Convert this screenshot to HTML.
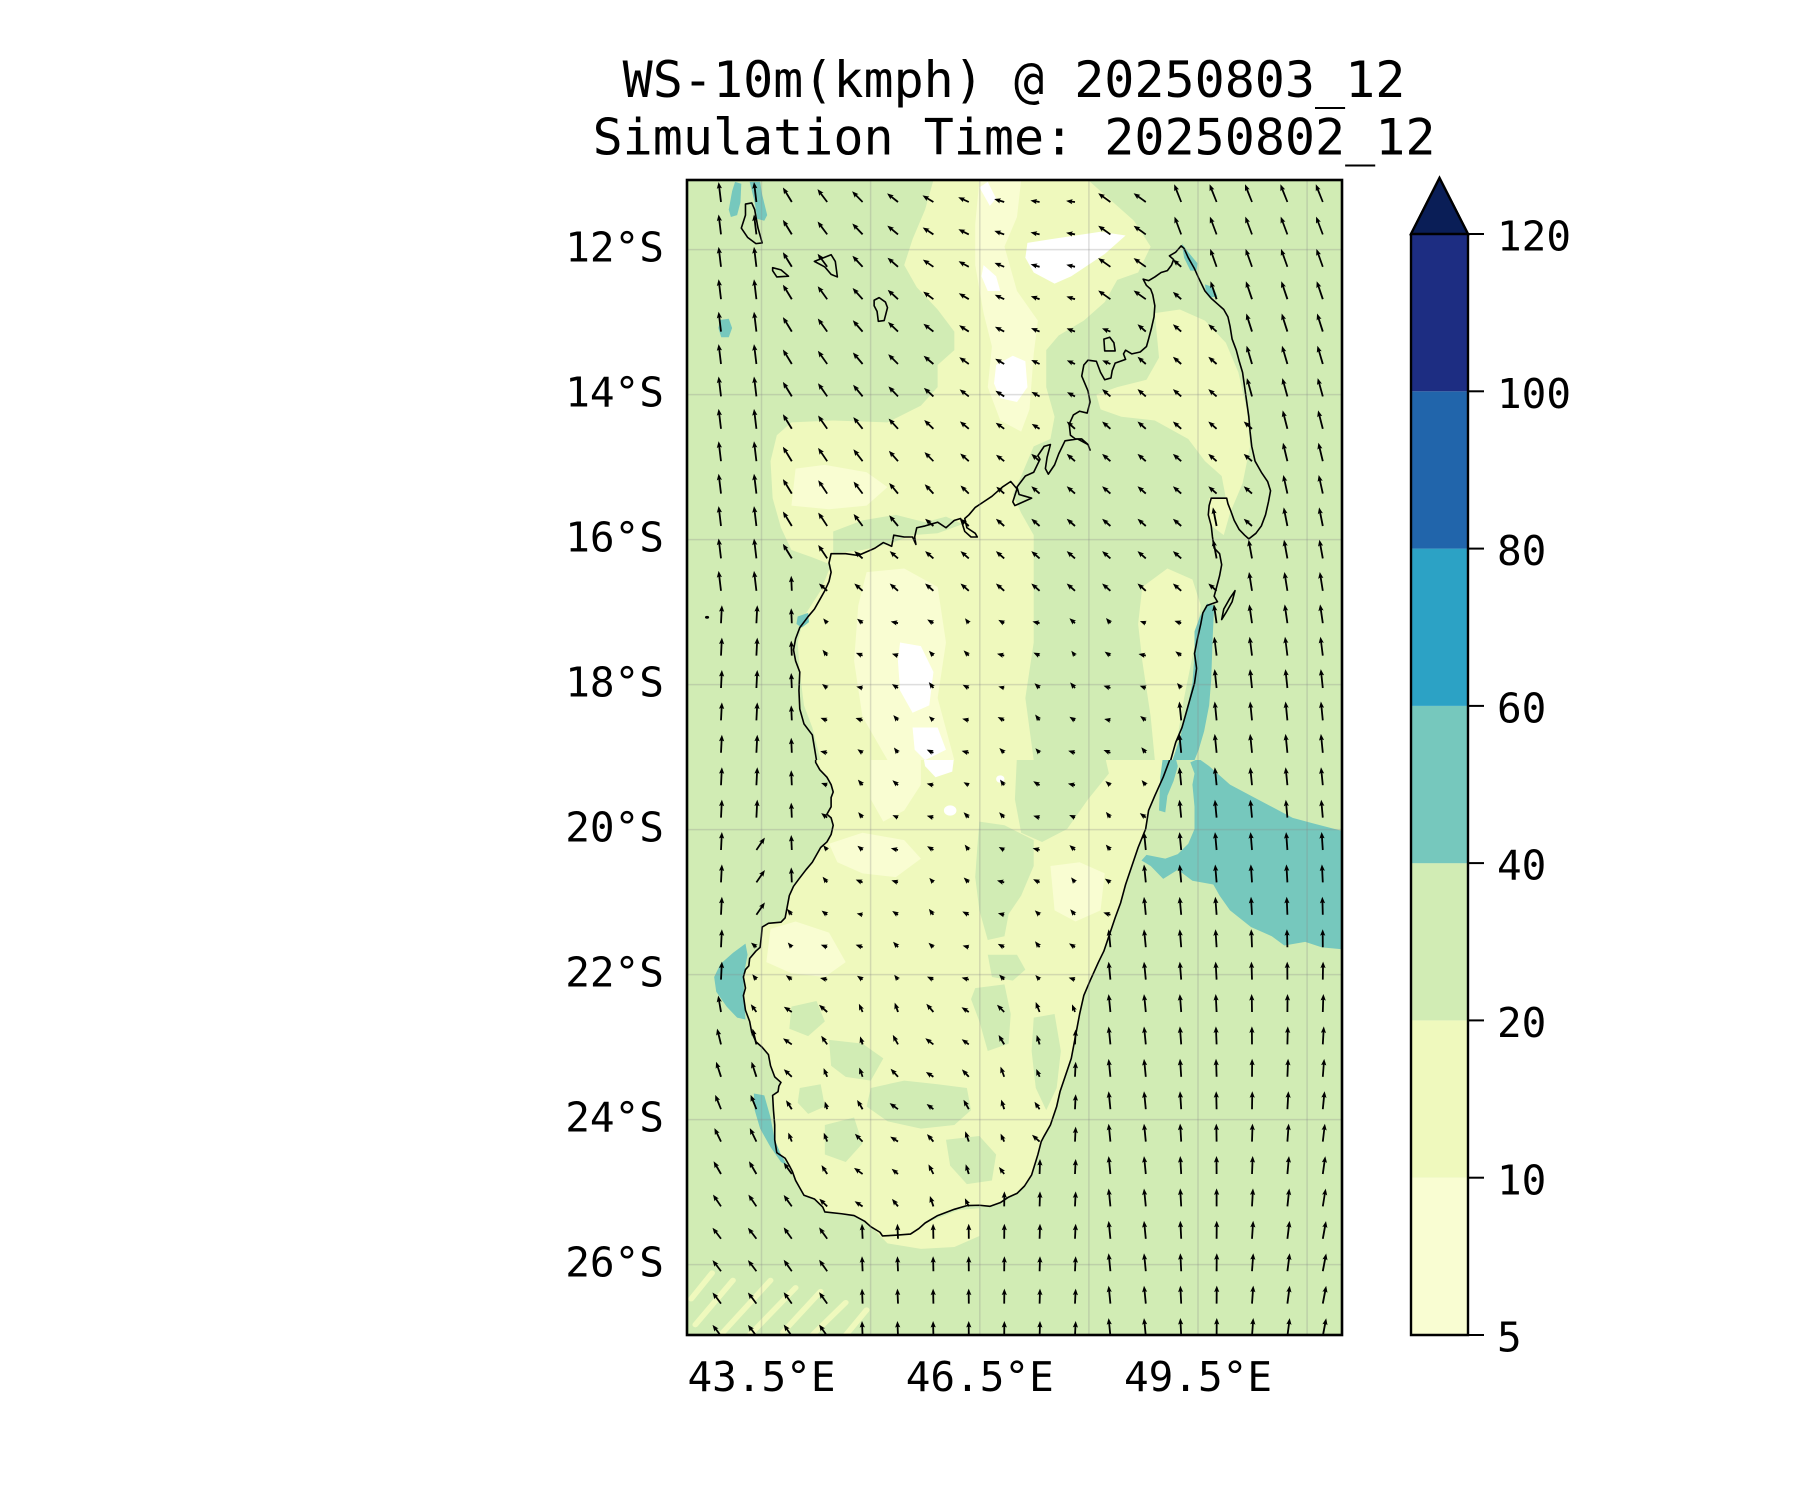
<!DOCTYPE html>
<html><head><meta charset="utf-8"><style>
html,body{margin:0;padding:0;background:#fff;}
svg{display:block;}
text{font-family:"DejaVu Sans Mono","Liberation Mono",monospace;fill:#000;}
</style></head><body>
<svg xmlns="http://www.w3.org/2000/svg" width="1800" height="1500" viewBox="0 0 1800 1500">
<defs>
<clipPath id="ax"><rect x="687" y="180" width="655" height="1155"/></clipPath>
<clipPath id="ctop"><rect x="687" y="180" width="655" height="580"/></clipPath>
<clipPath id="cbot"><rect x="687" y="760" width="655" height="575"/></clipPath>
</defs>
<rect width="1800" height="1500" fill="#fff"/>
<text x="1014" y="97" font-size="50" text-anchor="middle">WS-10m(kmph) @ 20250803_12</text>
<text x="1014" y="154.5" font-size="50" text-anchor="middle">Simulation Time: 20250802_12</text>

<g clip-path="url(#ax)">
<rect x="687" y="180" width="655" height="1155" fill="#d1ecb4"/>
<!-- top frame -->
<g clip-path="url(#ctop)">
<g transform="matrix(0.41771 0 0 0.36996 687 180)">
<path fill="#eff9bd" d="M590,0 L960,0 L1010,50 L1070,110 L1110,180 L1080,250 L1030,270 L1000,330 L950,380 L890,420 L860,460 L860,560 L880,640 L870,700 L830,720 L800,800 L780,850 L800,900 L830,960 L830,1050 L830,1250 L810,1400 L830,1568 L320,1568 L300,1480 L280,1420 L270,1330 L265,1250 L280,1180 L320,1110 L345,1040 L300,1020 L250,1000 L225,940 L205,860 L200,760 L215,690 L250,655 L350,650 L480,655 L560,610 L600,560 L600,500 L640,460 L640,410 L600,350 L550,290 L520,230 L540,160 L570,80 Z"/>
<path fill="#eff9bd" d="M1120,360 L1180,350 L1240,380 L1290,440 L1320,520 L1340,620 L1348,720 L1330,820 L1300,900 L1285,960 L1250,930 L1250,860 L1290,860 L1280,800 L1240,760 L1200,700 L1120,650 L1040,640 L990,620 L980,580 L1030,560 L1100,540 L1130,480 Z"/>
<path fill="#eff9bd" d="M1090,1100 L1150,1050 L1210,1080 L1230,1150 L1215,1260 L1190,1400 L1165,1568 L1120,1568 L1110,1450 L1090,1300 L1080,1200 Z"/>
<path fill="#d1ecb4" d="M350,950 L420,920 L500,905 L570,925 L620,910 L660,930 L600,955 L540,960 L480,985 L420,1000 L350,1010 Z"/>
<path fill="#f9fdd2" d="M700,0 L800,0 L790,100 L760,180 L790,300 L840,380 L830,470 L820,620 L800,680 L750,650 L720,560 L730,450 L710,360 L690,230 L690,120 Z"/>
<path fill="#f9fdd2" d="M260,780 L330,770 L430,790 L480,830 L430,880 L340,890 L250,880 Z"/>
<path fill="#f9fdd2" d="M430,1060 L520,1050 L600,1100 L620,1250 L600,1400 L640,1568 L480,1568 L420,1450 L400,1300 L410,1150 Z"/>
<g fill="#ffffff">
<path d="M815,170 L870,160 L930,150 L990,140 L1050,150 L1000,200 L960,230 L920,260 L880,280 L830,250 L810,210 Z"/>
<path d="M740,500 L780,475 L810,490 L815,560 L790,600 L750,590 L735,550 Z"/>
<path d="M710,230 L740,260 L750,300 L720,300 L705,260 Z"/>
<path d="M700,20 L720,5 L740,50 L725,70 Z"/>
<path d="M510,1250 L560,1260 L590,1330 L580,1420 L540,1440 L510,1380 L505,1300 Z"/>
<path d="M540,1480 L600,1480 L620,1540 L570,1568 L545,1540 Z"/>
</g>
<g fill="#76c8bd">
<path d="M115,5 L130,10 L128,60 L120,95 L105,100 L100,80 L108,30 Z"/>
<path d="M150,5 L175,5 L180,40 L192,95 L185,110 L168,105 L162,60 Z"/>
<path d="M80,378 L100,375 L108,400 L100,425 L82,425 L75,400 Z"/>
<path d="M1185,172 L1200,195 L1222,225 L1220,245 L1205,245 L1190,210 Z"/>
<path d="M1240,282 L1260,290 L1270,315 L1250,318 L1242,300 Z"/>
<path d="M265,1180 L290,1170 L292,1195 L275,1210 L262,1200 Z"/>
<path d="M1245,1145 L1262,1150 L1258,1250 L1255,1350 L1250,1420 L1238,1490 L1225,1540 L1215,1568 L1162,1568 L1180,1510 L1195,1440 L1210,1360 L1215,1280 L1215,1220 L1228,1180 Z"/>
</g>
<g fill="none" stroke="#000" stroke-width="1.6" stroke-linejoin="round">
<path vector-effect="non-scaling-stroke" d="M310,1568 L300,1500 L280,1470 L270,1430 L268,1380 L270,1330 L260,1300 L255,1270 L260,1240 L270,1210 L290,1180 L305,1160 L320,1130 L330,1110 L340,1085 L345,1060 L340,1035 L345,1010 L380,1010 L410,1015 L420,1010 L440,1000 L450,995 L470,980 L490,990 L495,960 L520,965 L540,965 L548,985 L545,965 L550,940 L570,935 L585,930 L600,925 L620,940 L630,930 L640,920 L655,915 L665,950 L680,965 L695,965 L690,955 L670,940 L665,915 L675,905 L690,885 L710,870 L730,855 L755,830 L775,815 L790,835 L780,870 L785,880 L805,870 L825,860 L810,855 L795,850 L790,830 L800,815 L810,800 L830,790 L845,755 L840,745 L855,720 L870,715 L862,750 L858,780 L865,795 L880,770 L890,740 L905,705 L935,700 L960,715 L965,730 L960,715 L945,700 L930,700 L918,690 L915,660 L925,635 L940,625 L958,630 L965,600 L960,570 L945,530 L950,500 L960,487 L980,490 L990,520 L1000,540 L1015,535 L1018,515 L1025,495 L1050,485 L1045,470 L1050,460 L1065,470 L1085,465 L1100,450 L1105,430 L1112,400 L1118,370 L1120,340 L1115,310 L1110,295 L1100,285 L1092,268 L1105,272 L1120,262 L1135,250 L1150,245 L1160,230 L1165,215 L1155,205 L1170,195 L1183,178 L1190,185 L1200,210 L1215,240 L1225,265 L1240,300 L1255,320 L1270,335 L1285,350 L1295,370 L1300,395 L1305,430 L1315,460 L1322,490 L1330,520 L1335,560 L1340,600 L1345,640 L1348,680 L1352,720 L1360,760 L1375,790 L1390,815 L1397,840 L1392,870 L1385,905 L1375,935 L1362,955 L1345,970 L1335,960 L1322,945 L1310,920 L1302,895 L1295,875 L1292,860 L1255,860 L1250,880 L1248,905 L1255,935 L1258,965 L1262,995 L1275,1010 L1280,1040 L1275,1070 L1268,1100 L1262,1125 L1270,1140 L1245,1150 L1235,1170 L1230,1200 L1222,1240 L1215,1280 L1220,1320 L1215,1360 L1205,1400 L1195,1440 L1185,1480 L1170,1520 L1158,1568"/>
<path vector-effect="non-scaling-stroke" d="M140,65 L155,62 L162,80 L170,130 L180,170 L165,172 L145,155 L130,130 L140,95 Z"/>
<path vector-effect="non-scaling-stroke" d="M205,237 L225,243 L243,260 L215,262 L205,245 Z"/>
<path vector-effect="non-scaling-stroke" d="M305,220 L345,202 L355,220 L360,262 L345,255 L330,235 Z"/>
<path vector-effect="non-scaling-stroke" d="M448,325 L460,318 L475,330 L480,345 L472,380 L458,382 L455,355 L448,340 Z"/>
<path vector-effect="non-scaling-stroke" d="M998,430 L1012,425 L1022,440 L1025,462 L1000,462 Z"/>
<path vector-effect="non-scaling-stroke" d="M1312,1110 L1305,1140 L1290,1170 L1280,1188 L1285,1160 L1300,1130 Z"/>
</g>
<ellipse cx="48" cy="1182" rx="5" ry="4" fill="#000"/>
</g>
</g>
<!-- bottom frame -->
<g clip-path="url(#cbot)">
<g transform="matrix(0.41771 0 0 0.36996 687 755)">
<path fill="#eff9bd" d="M1160,0 L1140,60 L1120,110 L1105,150 L1098,200 L1080,250 L1065,300 L1050,350 L1038,400 L1025,440 L1010,490 L998,530 L985,560 L965,610 L950,650 L940,700 L930,760 L920,820 L905,870 L893,910 L885,950 L870,1000 L855,1030 L848,1045 L840,1080 L825,1135 L808,1165 L790,1185 L770,1195 L750,1210 L725,1220 L700,1217 L670,1218 L640,1228 L600,1245 L570,1265 L555,1280 L535,1295 L500,1298 L468,1300 L462,1290 L440,1275 L425,1260 L400,1245 L370,1240 L330,1235 L325,1222 L305,1200 L280,1190 L270,1170 L260,1150 L252,1125 L245,1110 L235,1090 L215,1075 L210,1040 L210,1000 L207,960 L205,920 L218,910 L220,895 L225,885 L210,870 L200,840 L195,810 L180,790 L165,775 L155,750 L150,720 L140,690 L135,650 L140,630 L135,600 L140,580 L148,570 L150,550 L165,530 L175,520 L178,490 L180,465 L195,455 L225,452 L235,440 L240,410 L245,380 L255,355 L268,335 L285,310 L300,290 L310,270 L320,250 L335,235 L345,215 L350,190 L345,170 L335,160 L345,140 L345,115 L350,100 L345,80 L335,60 L318,40 L308,20 L308,0 Z"/>
<path fill="#eff9bd" d="M420,1250 L560,1270 L650,1230 L700,1225 L700,1300 L640,1330 L560,1335 L480,1320 Z"/>
<g stroke="#eff9bd" stroke-width="14" stroke-linecap="round" fill="none">
<path d="M20,1540 L110,1420 M80,1568 L200,1420 M150,1568 L260,1440 M230,1560 L320,1450 M300,1568 L380,1480 M10,1470 L60,1400 M380,1568 L430,1500"/>
</g>
<g fill="#d1ecb4">
<path d="M790,0 L1000,0 L1010,50 L960,120 L910,200 L850,235 L800,210 L785,120 Z"/>
<path d="M700,180 L760,190 L830,230 L830,300 L800,380 L770,430 L760,490 L720,500 L700,420 L690,330 L695,250 Z"/>
<path d="M720,540 L790,540 L810,580 L780,610 L730,600 Z"/>
<path d="M690,630 L760,620 L775,700 L770,780 L720,800 L700,720 L680,660 Z"/>
<path d="M340,770 L420,780 L470,820 L440,880 L380,870 L345,840 Z"/>
<path d="M250,680 L310,665 L330,720 L290,760 L245,740 Z"/>
<path d="M440,900 L520,880 L600,890 L670,900 L680,960 L640,1000 L560,1010 L480,990 L430,950 Z"/>
<path d="M620,1040 L700,1030 L740,1080 L730,1150 L670,1160 L630,1110 Z"/>
<path d="M830,710 L880,700 L895,800 L885,900 L860,960 L835,900 L825,800 Z"/>
<path d="M330,1000 L400,980 L420,1050 L380,1100 L330,1080 Z"/>
<path d="M270,900 L320,890 L330,950 L290,970 L265,940 Z"/>
</g>
<g fill="#f9fdd2">
<path d="M340,240 L420,210 L520,230 L560,280 L500,330 L420,320 L360,290 Z"/>
<path d="M200,470 L260,450 L340,480 L380,560 L330,600 L250,590 L190,560 Z"/>
<path d="M870,300 L940,290 L1000,320 L990,420 L930,450 L880,420 Z"/>
<path d="M440,0 L560,0 L560,80 L520,150 L470,180 L440,120 Z"/>
</g>
<g fill="#ffffff">
<path d="M565,0 L640,0 L635,45 L595,60 L570,30 Z"/>
<ellipse cx="630" cy="150" rx="15" ry="14"/>
<ellipse cx="750" cy="65" rx="10" ry="10"/>
</g>
<g fill="#76c8bd">
<path d="M1140,0 L1168,0 L1175,30 L1165,70 L1150,110 L1145,155 L1130,150 L1133,60 Z"/>
<path d="M1205,20 L1225,10 L1250,30 L1275,55 L1300,80 L1350,110 L1400,140 L1450,170 L1500,185 L1568,205 L1568,525 L1520,520 L1480,505 L1430,515 L1400,490 L1350,465 L1300,420 L1275,380 L1260,350 L1210,340 L1175,310 L1140,335 L1110,300 L1088,285 L1100,270 L1145,280 L1175,268 L1200,240 L1215,200 L1215,140 L1210,80 L1215,50 Z"/>
<path d="M140,510 L145,540 L135,600 L138,680 L140,715 L120,710 L95,680 L70,640 L65,600 L80,565 L110,535 Z"/>
<path d="M160,915 L185,920 L200,980 L210,1040 L225,1080 L240,1110 L225,1100 L200,1060 L175,1010 L162,960 Z"/>
</g>
<path fill="none" stroke="#000" stroke-width="1.6" vector-effect="non-scaling-stroke" stroke-linejoin="round" d="M1160,0 L1140,60 L1120,110 L1105,150 L1098,200 L1080,250 L1065,300 L1050,350 L1038,400 L1025,440 L1010,490 L998,530 L985,560 L965,610 L950,650 L940,700 L930,760 L920,820 L905,870 L893,910 L885,950 L870,1000 L855,1030 L848,1045 L840,1080 L825,1135 L808,1165 L790,1185 L770,1195 L750,1210 L725,1220 L700,1217 L670,1218 L640,1228 L600,1245 L570,1265 L555,1280 L535,1295 L500,1298 L468,1300 L462,1290 L440,1275 L425,1260 L400,1245 L370,1240 L330,1235 L325,1222 L305,1200 L280,1190 L270,1170 L260,1150 L252,1125 L245,1110 L235,1090 L215,1075 L210,1040 L210,1000 L207,960 L205,920 L218,910 L220,895 L225,885 L210,870 L200,840 L195,810 L180,790 L165,775 L155,750 L150,720 L140,690 L135,650 L140,630 L135,600 L140,580 L148,570 L150,550 L165,530 L175,520 L178,490 L180,465 L195,455 L225,452 L235,440 L240,410 L245,380 L255,355 L268,335 L285,310 L300,290 L310,270 L320,250 L335,235 L345,215 L350,190 L345,170 L335,160 L345,140 L345,115 L350,100 L345,80 L335,60 L318,40 L308,20 L308,0"/>
</g>
</g>
<!-- gridlines -->
<g stroke="#8a8a8a" stroke-opacity="0.28" stroke-width="1.5">
<line x1="761.5" y1="180" x2="761.5" y2="1335"/>
<line x1="870.6" y1="180" x2="870.6" y2="1335"/>
<line x1="979.8" y1="180" x2="979.8" y2="1335"/>
<line x1="1088.9" y1="180" x2="1088.9" y2="1335"/>
<line x1="1198" y1="180" x2="1198" y2="1335"/>
<line x1="1307.1" y1="180" x2="1307.1" y2="1335"/>
<line x1="687" y1="249.6" x2="1342" y2="249.6"/>
<line x1="687" y1="394.6" x2="1342" y2="394.6"/>
<line x1="687" y1="539.6" x2="1342" y2="539.6"/>
<line x1="687" y1="684.6" x2="1342" y2="684.6"/>
<line x1="687" y1="829.6" x2="1342" y2="829.6"/>
<line x1="687" y1="974.6" x2="1342" y2="974.6"/>
<line x1="687" y1="1119.6" x2="1342" y2="1119.6"/>
<line x1="687" y1="1264.6" x2="1342" y2="1264.6"/>
</g>
<path id="arrows" fill="#000" d=""/>
</g>
<rect x="687" y="180" width="655" height="1155" fill="none" stroke="#000" stroke-width="2.6"/>

<!-- lat labels -->
<g font-size="41" text-anchor="end">
<text x="664" y="261.6">12°S</text>
<text x="664" y="406.6">14°S</text>
<text x="664" y="551.6">16°S</text>
<text x="664" y="696.6">18°S</text>
<text x="664" y="841.6">20°S</text>
<text x="664" y="986.6">22°S</text>
<text x="664" y="1131.6">24°S</text>
<text x="664" y="1276.6">26°S</text>
</g>
<g font-size="41" text-anchor="middle">
<text x="761.5" y="1391">43.5°E</text>
<text x="979.8" y="1391">46.5°E</text>
<text x="1198" y="1391">49.5°E</text>
</g>

<!-- colorbar -->
<rect x="1411" y="1177.7" width="57" height="157.3" fill="#f9fdd2"/>
<rect x="1411" y="1020.4" width="57" height="157.3" fill="#eff9bd"/>
<rect x="1411" y="863.1" width="57" height="157.3" fill="#d1ecb4"/>
<rect x="1411" y="705.9" width="57" height="157.3" fill="#76c8bd"/>
<rect x="1411" y="548.6" width="57" height="157.3" fill="#2ca2c5"/>
<rect x="1411" y="391.3" width="57" height="157.3" fill="#2165ab"/>
<rect x="1411" y="234" width="57" height="157.3" fill="#1d2d82"/>
<path d="M1411,1335 L1411,234 L1439.5,178 L1468,234 L1468,1335 Z" fill="none" stroke="#000" stroke-width="2.4" stroke-linejoin="miter"/>
<path d="M1411,234 L1439.5,178 L1468,234 Z" fill="#0a1e57" stroke="#000" stroke-width="2.4"/>
<g stroke="#000" stroke-width="2">
<line x1="1468" y1="1335" x2="1484" y2="1335"/>
<line x1="1468" y1="1177.7" x2="1484" y2="1177.7"/>
<line x1="1468" y1="1020.4" x2="1484" y2="1020.4"/>
<line x1="1468" y1="863.1" x2="1484" y2="863.1"/>
<line x1="1468" y1="705.9" x2="1484" y2="705.9"/>
<line x1="1468" y1="548.6" x2="1484" y2="548.6"/>
<line x1="1468" y1="391.3" x2="1484" y2="391.3"/>
<line x1="1468" y1="234" x2="1484" y2="234"/>
</g>
<g font-size="41">
<text x="1497" y="1351.6">5</text>
<text x="1497" y="1194.3">10</text>
<text x="1497" y="1037">20</text>
<text x="1497" y="879.7">40</text>
<text x="1497" y="722.5">60</text>
<text x="1497" y="565.2">80</text>
<text x="1497" y="407.9">100</text>
<text x="1497" y="250.6">120</text>
</g>
</svg>
<script>
(function(){
var poly=[[1181,246],[1230,326],[1249,417],[1270,491],[1256,533],[1227,498],[1209,506],[1214,548],[1218,602],[1195,653],[1171,760],[1132,866],[1098,962],[1080,1014],[1060,1092],[1041,1142],[1025,1186],[979,1205],[910,1234],[882,1236],[825,1212],[792,1171],[775,1140],[773,1095],[750,1021],[743,977],[761,936],[787,907],[821,848],[831,798],[816,760],[800,709],[793,650],[808,617],[829,581],[831,554],[875,548],[917,528],[965,518],[1017,487],[1050,444],[1069,424],[1088,391],[1084,365],[1105,380],[1126,350],[1154,317],[1143,279],[1167,271]];
function pip(x,y){var c=false;for(var i=0,j=poly.length-1;i<poly.length;j=i++){var xi=poly[i][0],yi=poly[i][1],xj=poly[j][0],yj=poly[j][1];if(((yi>y)!=(yj>y))&&(x<(xj-xi)*(y-yi)/(yj-yi)+xi))c=!c;}return c;}
function cl(v){return Math.max(0,Math.min(1,v));}
var d='';
for(var i=0;i<18;i++){for(var j=0;j<36;j++){
 var x=721+i*35.4,y=202+j*32.4;
 var land=pip(x,y);
 var a,L;
 if(land){
   if(y<620){a=0.85;L=11;}
   else if(y<1000){a=1.0+0.35*Math.sin(i*1.7+j*0.9);L=6+1.5*Math.abs(Math.sin(i*0.7+j*1.3));}
   else{a=0.65+0.35*Math.sin(i*1.3+j*0.7);L=8+3*Math.abs(Math.cos(i*1.1+j*0.5));}
 } else {
   if(x<790){
     if(y<600){a=0.12;L=20;}
     else if(y<980){a=-0.05;L=18; if(x>740&&y>820){a=-0.6;L=15;}}
     else{var t=cl((y-980)/250);a=0.1+0.55*t;L=17-3*t;}
   } else if(y<560 && x<1150){
     var t2=cl((x-800)/250),s2=cl((y-200)/300);
     a=0.55+0.9*t2*(1-0.6*s2);L=17-8*t2;
     if(y<300&&x>1080){a=0.95;L=15;}
   } else if(x>=1150 && y<760){
     a=0.38-0.28*cl((y-200)/500);L=19;
   } else if(y>1150 && x<830){
     a=0.62;L=14;
   } else {
     var t3=cl((y-800)/450);
     a=0.1-0.3*t3*cl((x-1150)/180);L=18;
     if(x<1100){L=15;a=0.04-0.1*cl((x-900)/200);}
   }
 }
 var ux=-Math.sin(a),uy=-Math.cos(a),px=-uy,py=ux;
 var hl=6.5,hal=5.7,hw=2.6,w=0.9,s=1;
 if(L<hl){s=L/hl;}
 var pts=[[0,-w*s],[L-hal*s,-w*s],[L-hl*s,-hw*s],[L,0],[L-hl*s,hw*s],[L-hal*s,w*s],[0,w*s]];
 d+='M'+pts.map(function(p){return (x+ux*p[0]+px*p[1]).toFixed(1)+','+(y+uy*p[0]+py*p[1]).toFixed(1);}).join('L')+'Z';
}}
document.getElementById('arrows').setAttribute('d',d);
})();
</script>
</body></html>
